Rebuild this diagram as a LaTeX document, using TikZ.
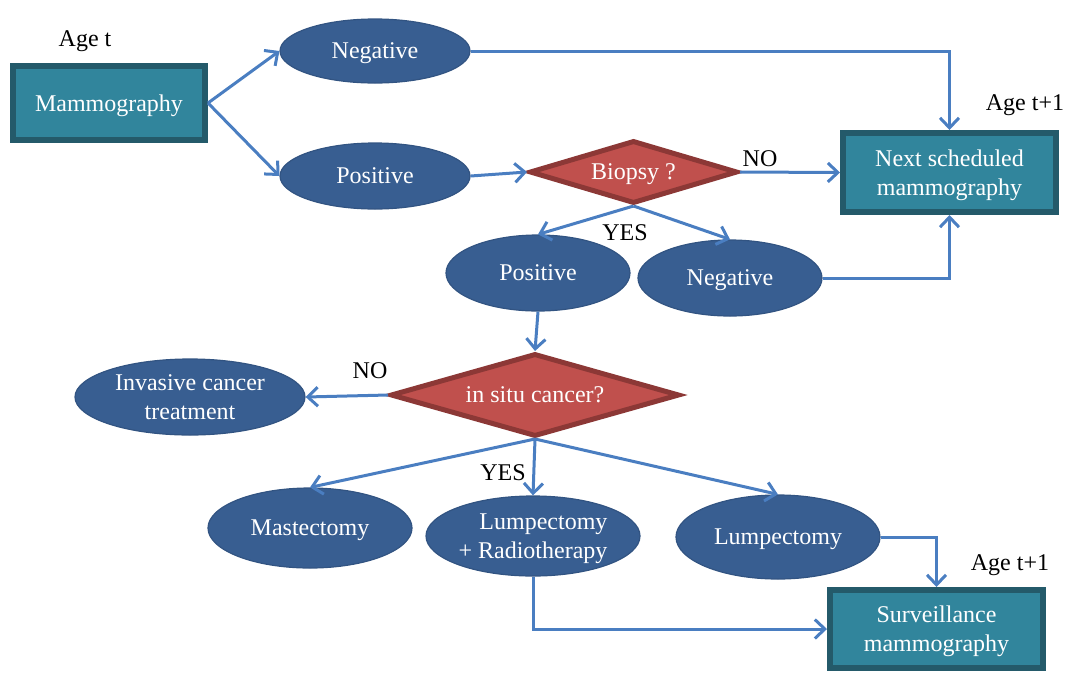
\documentclass[tikz,border=0pt]{standalone}
\usepackage{fontspec}
\setmainfont{Liberation Serif}
\usetikzlibrary{shapes.geometric,arrows.meta}
\definecolor{boxfill}{RGB}{49,133,156}
\definecolor{boxline}{RGB}{36,90,106}
\definecolor{ovalfill}{RGB}{56,94,145}
\definecolor{ovalline}{RGB}{50,84,130}
\definecolor{diafill}{RGB}{192,80,77}
\definecolor{dialine}{RGB}{140,56,54}
\definecolor{flow}{RGB}{74,126,193}

\begin{document}
\begin{tikzpicture}[x=1pt,y=-1pt,
  every node/.style={font=\fontsize{24}{29}\selectfont, inner sep=0pt},
  shaped/.style={text=white, text depth=0pt},
  stagebox/.style={shaped, rectangle, draw=boxline, line width=6pt, fill=boxfill, align=center},
  oval/.style={shaped, ellipse, draw=ovalline, line width=1.2pt, fill=ovalfill, align=center},
  decision/.style={shaped, diamond, draw=dialine, line width=5pt, fill=diafill},
  note/.style={text=black, anchor=base},
  flowline/.style={draw=flow, line width=3pt, -{Straight Barb[length=10pt,width=19pt]}},
]
\useasboundingbox (0,0) rectangle (1070,673);

% stages
\node[stagebox, minimum width=192pt, minimum height=74pt] (mam) at (109,103) {Mammography};
\node[stagebox, minimum width=213pt, minimum height=79pt] (next) at (949.5,172.5) {Next scheduled\\mammography};
\node[stagebox, minimum width=213pt, minimum height=78pt] (surv) at (936.5,629) {Surveillance\\mammography};

% outcomes
\node[oval, minimum width=190pt, minimum height=64pt] (neg1) at (375,51) {Negative};
\node[oval, minimum width=190pt, minimum height=66pt] (pos1) at (375,176) {Positive};
\node[oval, minimum width=184pt, minimum height=76pt] (pos2) at (538,273) {Positive};
\node[oval, minimum width=184pt, minimum height=76pt] (neg2) at (730,278) {Negative};
\node[oval, minimum width=230pt, minimum height=76pt] (inv) at (190,397) {Invasive cancer\\treatment};
\node[oval, minimum width=204pt, minimum height=80pt] (mast) at (310,528) {Mastectomy};
\node[oval, minimum width=214pt, minimum height=80pt, align=right] (lr) at (533,536) {Lumpectomy\\+ Radiotherapy};
\node[oval, minimum width=204pt, minimum height=84pt] (lump) at (778,537) {Lumpectomy};

% decisions
\node[decision, aspect=3.3, minimum width=208pt, minimum height=63pt] (biopsy) at (633.5,172) {Biopsy ?};
\node[decision, aspect=3.48, minimum width=289pt, minimum height=83pt] (insitu) at (535,395) {in situ cancer?};

% labels
\node[note] (aget) at (85,46) {Age t};
\node[note] (agenext) at (1025,110) {Age t+1};
\node[note] (agesurv) at (1010,570) {Age t+1};
\node[note] (nob) at (760,166) {NO};
\node[note] (yesb) at (625,240) {YES};
\node[note] (nos) at (370,378) {NO};
\node[note] (yess) at (503,480) {YES};

% connectors
\draw[flowline] (mam.east) -- (neg1.west);
\draw[flowline] (mam.east) -- (pos1.west);
\draw[flowline] (neg1.east) -| (next.north);
\draw[flowline] (pos1.east) -- (biopsy.west);
\draw[flowline] (biopsy.east) -- (next.west);
\draw[flowline] (biopsy.south) -- (pos2.north);
\draw[flowline] (biopsy.south) -- (neg2.north);
\draw[flowline] (neg2.east) -| (next.south);
\draw[flowline] (pos2.south) -- (insitu.north);
\draw[flowline] (insitu.west) -- (inv.east);
\draw[flowline] (insitu.south) -- (mast.north);
\draw[flowline] (insitu.south) -- (lr.north);
\draw[flowline] (insitu.south) -- (lump.north);
\draw[flowline] (lump.east) -| (surv.north);
\draw[flowline] (lr.south) |- (surv.west);
\end{tikzpicture}
\end{document}
